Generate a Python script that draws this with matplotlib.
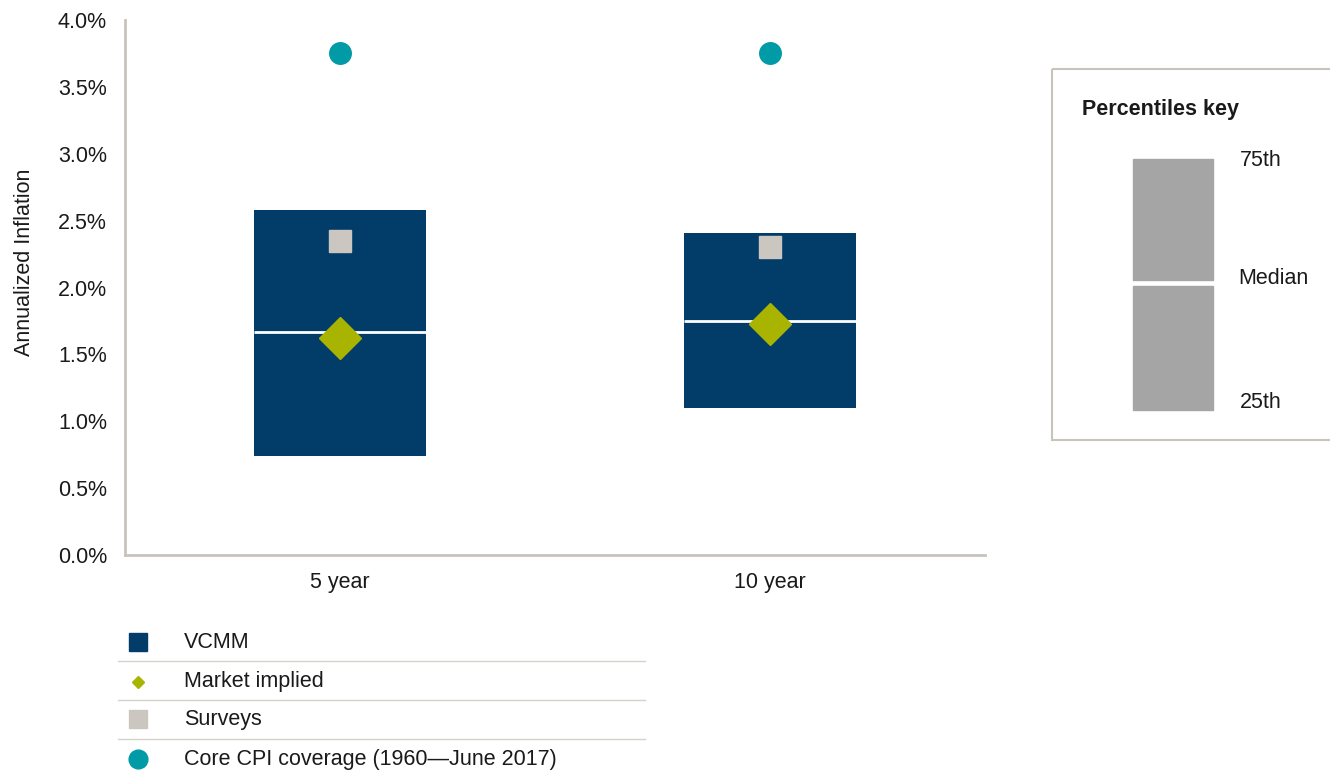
import matplotlib
matplotlib.use('Agg')
import matplotlib.pyplot as plt
from matplotlib.patches import Rectangle
from matplotlib.ticker import FuncFormatter
import numpy as np

plt.rcParams['font.family'] = ['Liberation Sans', 'DejaVu Sans']

horizons = ['5 year', '10 year']
vcmm_p25 = [0.74, 1.10]
vcmm_median = [1.67, 1.75]
vcmm_p75 = [2.58, 2.41]
market_implied = [1.62, 1.73]
surveys = [2.35, 2.30]
core_cpi = [3.75, 3.75]

legend_labels = ['VCMM', 'Market implied', 'Surveys', 'Core CPI coverage (1960\u2014June 2017)']
key_labels = ['75th', 'Median', '25th']

NAVY = '#023D6A'
OLIVE = '#A8B400'
STONE = '#CBC7C0'
TEAL = '#009BA7'
KEYGREY = '#A5A5A5'
SPINE = '#C8C4BC'
TXT = '#1a1a1a'
FS = 15.5

W, H = 1330, 773
fig = plt.figure(figsize=(W / 100, H / 100), dpi=100)
ax = fig.add_axes([125 / W, 1 - 555 / H, (985 - 125) / W, (555 - 20) / H])

x = np.arange(len(horizons))
bw = 0.40
lo = np.array(vcmm_p25)
hi = np.array(vcmm_p75)
ax.bar(x, hi - lo, bottom=lo, width=bw, color=NAVY, zorder=2)
ax.hlines(vcmm_median, x - bw / 2, x + bw / 2, color='white', lw=2, zorder=3)
ax.plot(x, surveys, 's', ms=16, color=STONE, ls='', zorder=4)
ax.plot(x, market_implied, 'D', ms=21.5, color=OLIVE, ls='', zorder=4)
ax.plot(x, core_cpi, 'o', ms=15.5, color=TEAL, ls='', zorder=4)

ax.set_xlim(-0.5, 1.5)
ax.set_ylim(0, 4.0)
ax.set_yticks(np.arange(0, 4.01, 0.5))
ax.yaxis.set_major_formatter(FuncFormatter(lambda v, p: '{:.1f}%'.format(v)))
ax.set_xticks(x)
ax.set_xticklabels(horizons)
ax.tick_params(length=0, labelsize=FS, colors=TXT)
ax.tick_params(axis='y', pad=13)
ax.tick_params(axis='x', pad=12)
for s in ['top', 'right']:
    ax.spines[s].set_visible(False)
for s in ['left', 'bottom']:
    ax.spines[s].set_color(SPINE)
    ax.spines[s].set_linewidth(2)
fig.text(25 / W, 1 - 262 / H, 'Annualized Inflation', rotation=90, fontsize=FS,
         ha='center', va='center', color=TXT)

# overlay in pixel coordinates for the key and the legend
ov = fig.add_axes([0, 0, 1, 1])
ov.set_xlim(0, W)
ov.set_ylim(H, 0)
ov.axis('off')

# percentiles key
ov.add_patch(Rectangle((1052, 69), 300, 371, fill=False, ec=SPINE, lw=1.5, clip_on=False))
ov.text(1082, 110, 'Percentiles key', fontsize=FS, fontweight='bold', va='center', color=TXT)
ov.add_patch(Rectangle((1133, 159), 80, 121, color=KEYGREY))
ov.add_patch(Rectangle((1133, 286), 80, 124, color=KEYGREY))
for lab, yy, xx in zip(key_labels, [160, 278, 402], [1240, 1238, 1240]):
    ov.text(xx, yy, lab, fontsize=FS, va='center', color=TXT)

# bottom legend
rows = [642, 682, 719, 759]
ov.plot(138, rows[0], 's', ms=13.5, color=NAVY)
ov.plot(138, rows[1], 'D', ms=6, color=OLIVE)
ov.plot(138, rows[2], 's', ms=13.5, color=STONE)
ov.plot(138, rows[3], 'o', ms=13.5, color=TEAL)
for lab, yy in zip(legend_labels, rows):
    ov.text(184, yy, lab, fontsize=FS, va='center', color=TXT)
for yy in [661, 700, 739]:
    ov.plot([118, 645], [yy, yy], color='#D5D2CC', lw=1)

fig.savefig('out.png', dpi=100)
